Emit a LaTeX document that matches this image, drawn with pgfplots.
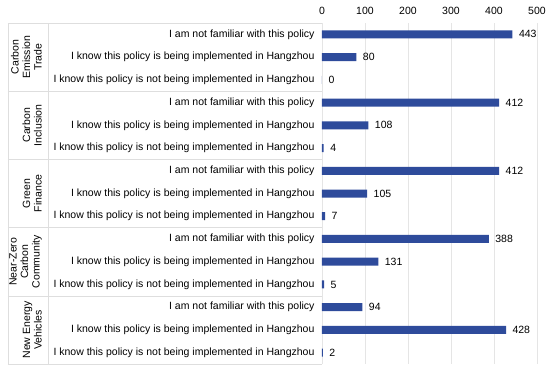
\documentclass[border=0pt]{standalone}
\usepackage{fontspec}
\setmainfont{Liberation Sans}
\usepackage{pgfplots}
\pgfplotsset{compat=1.18}
\definecolor{barblue}{RGB}{46,75,155}
\definecolor{sep}{RGB}{222,222,222}
\begin{document}
\begin{tikzpicture}
\begin{axis}[name=ax, scale only axis, width=215pt, height=341pt,
  xbar, bar width=8pt, y dir=reverse, ymin=0.5, ymax=15.5, xmin=0, xmax=500,
  axis x line*=top, axis y line*=left, axis line style={draw=none},
  xtick={0,100,...,500}, major tick length=0pt,
  xmajorgrids, grid style={draw=gray!20},
  ytick={1,...,15},
  yticklabels={I am not familiar with this policy,I know this policy is being implemented in Hangzhou,I know this policy is not being implemented in Hangzhou,
               I am not familiar with this policy,I know this policy is being implemented in Hangzhou,I know this policy is not being implemented in Hangzhou,
               I am not familiar with this policy,I know this policy is being implemented in Hangzhou,I know this policy is not being implemented in Hangzhou,
               I am not familiar with this policy,I know this policy is being implemented in Hangzhou,I know this policy is not being implemented in Hangzhou,
               I am not familiar with this policy,I know this policy is being implemented in Hangzhou,I know this policy is not being implemented in Hangzhou},
  tick label style={font=\fontsize{10.5}{12}\selectfont},
  /pgf/number format/assume math mode=true,
  xticklabel style={yshift=5pt},
  yticklabel style={xshift=-4pt},
  nodes near coords,
  nodes near coords style={font=\fontsize{10.5}{12}\selectfont, anchor=west, xshift=3pt},
  clip=false]
\addplot[fill=barblue, draw=none] coordinates {
  (443,1) (80,2) (0,3)
  (412,4) (108,5) (4,6)
  (412,7) (105,8) (7,9)
  (388,10) (131,11) (5,12)
  (94,13) (428,14) (2,15)};
\draw[sep] ([xshift=-314pt]axis cs:0,0.5) -- (axis cs:0,0.5);
\draw[sep] ([xshift=-314pt]axis cs:0,3.5) -- (axis cs:0,3.5);
\draw[sep] ([xshift=-314pt]axis cs:0,6.5) -- (axis cs:0,6.5);
\draw[sep] ([xshift=-314pt]axis cs:0,9.5) -- (axis cs:0,9.5);
\draw[sep] ([xshift=-314pt]axis cs:0,12.5) -- (axis cs:0,12.5);
\draw[sep] ([xshift=-314pt]axis cs:0,15.5) -- (axis cs:0,15.5);
\draw[sep] ([xshift=-314pt]axis cs:0,0.5) -- ([xshift=-314pt]axis cs:0,15.5);
\draw[sep] ([xshift=-274pt]axis cs:0,0.5) -- ([xshift=-274pt]axis cs:0,15.5);
\tikzset{grp/.style={rotate=90, anchor=south, align=center, inner sep=1pt, font=\fontsize{10.5}{11.5}\selectfont}}
\node[grp] at ([xshift=-279pt]axis cs:0,2) {Carbon\\Emission\\Trade};
\node[grp] at ([xshift=-279pt]axis cs:0,5) {Carbon\\Inclusion};
\node[grp] at ([xshift=-279pt]axis cs:0,8) {Green\\Finance};
\node[grp] at ([xshift=-279pt]axis cs:0,11) {Near-Zero\\Carbon\\Community};
\node[grp] at ([xshift=-279pt]axis cs:0,14) {New Energy\\Vehicles};
\end{axis}
\pgfresetboundingbox
\path[use as bounding box] ([xshift=-322pt,yshift=-14pt]ax.south west) rectangle ([xshift=13pt,yshift=23pt]ax.north east);
\end{tikzpicture}
\end{document}
